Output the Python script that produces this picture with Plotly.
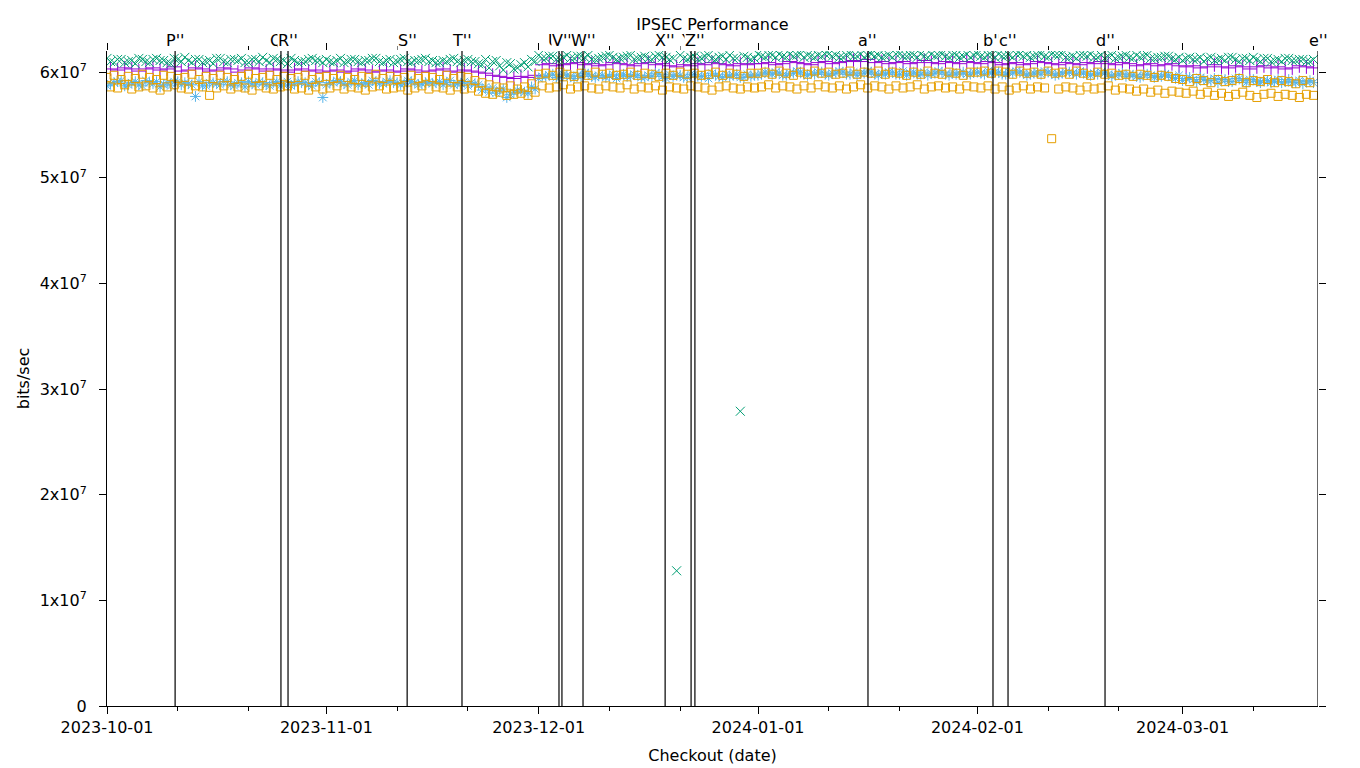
import pandas as pd
import plotly.graph_objects as go

# Throughput per checkout day, in Mbit/s (one value per day from 2023-10-01)
plus_purple = [
    60.3, 60.2, 60.4, 60.3, 60.1, 60.3, 60.4, 60.2, 60.3, 60.5, 60.1, 60.2, 60.4, 60.3, 60.1, 60.2, 60.4, 60.3, 60.0, 60.2, 60.4, 60.3, 60.1, 60.3, 60.2, 60.0, 60.2, 60.3, 60.1, 60.2, 60.0,
    60.1, 60.2, 60.0, 60.1, 60.3, 60.2, 60.0, 60.1, 60.2, 60.0, 60.1, 60.3, 60.2, 60.0, 60.1, 60.2, 60.3, 60.1, 60.0, 60.2, 60.1, 60.0, 59.9, 59.7, 59.6, 59.5, 59.4, 59.6, 59.5, 59.7,
    60.7, 60.8, 60.6, 60.7, 60.8, 60.9, 60.7, 60.8, 60.6, 60.7, 60.9, 60.8, 60.7, 60.6, 60.8, 60.9, 60.7, 60.8, 60.6, 60.5, 60.7, 60.6, 60.8, 60.7, 60.9, 60.8, 60.7, 60.6, 60.8, 60.7, 60.8,
    60.8, 60.9, 60.7, 60.8, 61.0, 60.9, 60.8, 60.7, 60.9, 61.0, 60.8, 60.9, 61.0, 61.1, 61.0, 61.2, 60.9, 61.0, 60.8, 60.9, 61.0, 60.8, 60.9, 61.1, 60.9, 60.8, 61.0, 60.9, 60.8, 61.0, 60.9,
    60.8, 61.0, 60.9, 60.7, 60.8, 60.9, 60.7, 60.8, 61.0, 60.9, 60.8, 60.7, 60.9, 60.8, 60.7, 60.9, 60.8, 61.0, 60.8, 60.7, 60.9, 60.8, 60.6, 60.7, 60.8, 60.6, 60.7, 60.8, 60.6,
    60.5, 60.6, 60.4, 60.5, 60.7, 60.5, 60.4, 60.6, 60.5, 60.3, 60.5, 60.6, 60.4, 60.5, 60.3, 60.4, 60.6, 60.5, 60.4,
]
x_green = [
    61.0, 61.2, 60.9, 61.1, 61.3, 61.0, 61.2, 61.1, 60.9, 61.3, 61.0, 61.1, 61.2, 60.9, 61.1, 61.3, 61.0, 61.2, 61.1, 60.9, 61.2, 61.0, 61.1, 61.3, 61.0, 60.8, 61.1, 61.0, 61.2, 61.1, 60.9,
    61.0, 61.1, 60.9, 61.2, 61.0, 61.1, 61.3, 61.0, 61.1, 60.9, 61.2, 61.0, 61.1, 61.2, 61.0, 60.9, 61.1, 61.2, 61.0, 61.1, 61.0, 60.8, 61.2, 61.0, 60.6, 60.9, 60.3, 60.7, 60.5, 61.0,
    61.3, 61.5, 61.2, 61.4, 61.3, 61.5, 61.4, 61.2, 61.3, 61.5, 61.4, 61.3, 61.5, 61.2, 61.4, 61.3, 61.5, 61.4, 61.2, 12.8, 61.3, 61.4, 61.2, 61.5, 61.3, 61.4, 61.2, 61.3, 27.9, 61.4, 61.3,
    61.5, 61.6, 61.4, 61.5, 61.7, 61.6, 61.4, 61.5, 61.6, 61.7, 61.5, 61.4, 61.6, 61.5, 61.7, 61.6, 61.5, 61.4, 61.6, 61.7, 61.5, 61.6, 61.4, 61.5, 61.7, 61.6, 61.5, 61.6, 61.4, 61.7, 61.6,
    61.5, 61.6, 61.4, 61.5, 61.6, 61.7, 61.5, 61.4, 61.6, 61.5, 61.7, 61.6, 61.4, 61.5, 61.6, 61.5, 61.4, 61.6, 61.5, 61.3, 61.5, 61.4, 61.6, 61.5, 61.3, 61.4, 61.5, 61.3, 61.4,
    61.3, 61.2, 61.4, 61.3, 61.1, 61.3, 61.4, 61.2, 61.3, 61.1, 61.2, 61.3, 61.0, 61.2, 61.3, 61.1, 61.2, 61.0, 61.2,
]
x_green_2 = [
    61.3, 60.9, 61.2, 61.0, 60.8, 61.2, 60.9, 61.3, 61.1, 60.8, 61.2, 61.4, 60.9, 61.2, 61.0, 60.8, 61.3, 60.9, 61.2, 61.3, 60.9, 61.2, 61.4, 60.9, 61.2, 61.1, 61.3, 60.9, 61.0, 61.3, 61.1,
    61.2, 60.9, 61.3, 61.0, 61.2, 60.9, 61.1, 61.3, 60.9, 61.2, 61.0, 61.3, 60.9, 61.1, 61.3, 61.1, 60.9, 61.0, 61.3, 60.9, 61.2, 61.0, 60.7, 60.4, 61.1, 60.2, 60.8, 60.4, 60.9, 61.2,
    61.6, 61.3, 61.5, 61.2, 61.6, 61.3, 61.5, 61.6, 61.2, 61.4, 61.6, 61.2, 61.4, 61.6, 61.3, 61.5, 61.2, 61.6, 61.4, 61.3, 61.6, 61.2, 61.5, 61.3, 61.6, 61.2, 61.5, 61.6, 61.3, 61.5, 61.2,
    61.7, 61.4, 61.6, 61.7, 61.4, 61.5, 61.7, 61.6, 61.4, 61.5, 61.7, 61.6, 61.4, 61.7, 61.5, 61.4, 61.7, 61.6, 61.5, 61.4, 61.7, 61.5, 61.6, 61.7, 61.4, 61.5, 61.7, 61.4, 61.6, 61.5, 61.4,
    61.7, 61.4, 61.6, 61.7, 61.5, 61.4, 61.7, 61.6, 61.5, 61.7, 61.4, 61.6, 61.7, 61.4, 61.3, 61.6, 61.7, 61.4, 61.3, 61.6, 61.4, 61.6, 61.3, 61.4, 61.6, 61.3, 61.4, 61.5, 61.2,
    61.1, 61.4, 61.2, 61.0, 61.4, 61.2, 61.1, 61.4, 61.0, 61.3, 61.4, 61.0, 61.3, 61.1, 61.0, 61.3, 61.1, 61.2, 61.0,
]
star_blue = [
    58.9, 59.1, 58.7, 59.0, 58.8, 59.2, 58.9, 58.6, 59.0, 59.1, 58.8, 58.9, 57.7, 58.7, 59.0, 58.9, 59.1, 58.8, 59.0, 58.6, 58.9, 59.1, 58.8, 59.0, 58.7, 59.1, 58.9, 59.0, 58.8, 59.1, 57.6,
    59.0, 59.2, 58.9, 59.1, 58.8, 59.0, 59.2, 58.9, 59.1, 59.0, 58.8, 59.2, 59.0, 58.9, 59.1, 59.0, 58.8, 59.2, 58.9, 59.1, 59.0, 58.8, 58.6, 58.5, 58.3, 57.6, 58.1, 58.2, 58.0, 58.4,
    59.6, 59.7, 59.5, 59.8, 59.6, 59.7, 59.9, 59.6, 59.7, 59.5, 59.8, 59.7, 59.6, 59.8, 59.5, 59.7, 59.9, 59.6, 59.8, 59.7, 59.5, 59.8, 59.6, 59.7, 59.9, 59.6, 59.8, 59.7, 59.5, 59.8, 59.7,
    59.8, 59.9, 60.0, 59.7, 59.9, 60.1, 59.8, 59.9, 60.0, 59.8, 59.9, 60.1, 59.8, 60.0, 59.9, 60.1, 59.8, 59.9, 60.0, 59.8, 60.1, 59.9, 59.8, 60.0, 59.9, 60.1, 59.8, 60.0, 59.9, 59.8, 60.0,
    59.9, 60.1, 60.0, 59.8, 60.0, 60.1, 59.9, 59.8, 60.0, 60.1, 59.9, 59.8, 60.0, 59.9, 60.1, 59.8, 59.9, 60.0, 59.8, 59.7, 59.9, 59.8, 59.6, 59.8, 59.7, 59.6, 59.8, 59.5, 59.7,
    59.4, 59.3, 59.5, 59.2, 59.4, 59.3, 59.1, 59.4, 59.2, 59.3, 59.1, 59.2, 59.0, 59.3, 59.1, 59.0, 59.2, 59.1, 59.0,
]
star_blue_2 = [
    58.7, 59.0, 59.2, 58.8, 59.1, 58.7, 59.0, 59.1, 58.8, 58.7, 59.1, 59.0, 58.8, 59.1, 58.7, 59.0, 58.8, 59.1, 58.7, 59.0, 59.1, 58.8, 59.0, 58.7, 59.1, 58.8, 58.7, 59.1, 59.0, 58.7, 59.0,
    58.8, 59.0, 59.1, 58.8, 59.2, 58.9, 58.8, 59.1, 58.9, 59.2, 59.0, 58.9, 59.1, 58.8, 59.0, 58.9, 59.1, 59.0, 58.8, 58.9, 58.7, 58.9, 58.3, 58.1, 58.0, 58.4, 57.9, 58.3, 58.1, 58.6,
    59.4, 59.6, 59.8, 59.5, 59.7, 59.4, 59.6, 59.8, 59.5, 59.7, 59.6, 59.4, 59.8, 59.6, 59.7, 59.5, 59.6, 59.8, 59.4, 59.6, 59.7, 59.5, 59.8, 59.6, 59.4, 59.7, 59.5, 59.6, 59.8, 59.5, 59.6,
    59.7, 60.0, 59.8, 59.9, 59.7, 59.9, 60.0, 59.7, 59.8, 60.0, 59.7, 59.9, 60.0, 59.8, 59.7, 59.9, 60.0, 59.7, 59.8, 60.0, 59.8, 59.7, 60.0, 59.8, 59.7, 59.9, 60.0, 59.7, 59.8, 60.0, 59.8,
    60.0, 59.8, 59.9, 60.0, 59.8, 59.9, 60.0, 59.7, 59.9, 59.8, 60.0, 59.7, 59.9, 60.0, 59.8, 59.9, 59.7, 59.8, 59.9, 59.6, 59.8, 59.6, 59.7, 59.5, 59.8, 59.5, 59.6, 59.7, 59.4,
    59.2, 59.5, 59.1, 59.3, 59.2, 59.0, 59.3, 59.1, 59.4, 59.0, 59.3, 59.0, 59.2, 59.1, 59.0, 59.3, 59.0, 58.9, 59.2,
]
square_orange_hi = [
    59.5, 59.7, 59.3, 59.6, 59.4, 59.8, 59.5, 59.3, 59.7, 59.6, 59.4, 59.5, 59.8, 59.3, 59.6, 59.4, 59.7, 59.5, 59.3, 59.6, 59.8, 59.4, 59.5, 59.7, 59.3, 59.6, 59.4, 59.5, 59.7, 59.3, 59.5,
    59.6, 59.4, 59.7, 59.5, 59.3, 59.6, 59.5, 59.8, 59.4, 59.6, 59.3, 59.5, 59.7, 59.4, 59.6, 59.5, 59.3, 59.7, 59.4, 59.6, 59.5, 59.2, 59.0, 58.8, 58.6, 58.5, 58.7, 58.4, 58.6, 58.9,
    59.8, 59.9, 59.7, 60.0, 59.8, 59.6, 59.9, 59.7, 60.0, 59.8, 59.9, 59.7, 59.8, 60.0, 59.7, 59.9, 59.8, 59.6, 59.9, 59.7, 60.0, 59.8, 59.9, 59.7, 59.8, 60.0, 59.7, 59.9, 59.8, 59.6, 59.9,
    59.9, 60.0, 59.8, 60.1, 59.9, 59.7, 60.0, 59.8, 60.1, 59.9, 60.0, 59.8, 59.9, 60.1, 59.8, 60.0, 59.9, 60.1, 59.8, 60.0, 59.9, 59.7, 60.0, 59.8, 60.1, 59.9, 59.8, 60.0, 59.9, 59.7, 60.0,
    60.0, 60.1, 59.9, 60.1, 60.0, 59.8, 60.1, 59.9, 60.0, 59.8, 60.1, 59.9, 60.0, 59.8, 60.1, 59.9, 59.7, 60.0, 59.8, 59.9, 59.7, 59.8, 59.6, 59.8, 59.7, 59.5, 59.7, 59.6, 59.4,
    59.3, 59.1, 59.4, 59.2, 59.0, 59.3, 59.1, 59.2, 59.4, 59.0, 59.2, 59.1, 59.3, 59.0, 59.2, 59.1, 58.9, 59.2, 59.0,
]
square_orange_lo = [
    58.6, 58.5, 58.8, 58.4, 58.6, 58.7, 58.5, 58.3, 58.6, 58.8, 58.5, 58.4, 58.7, 58.6, 57.8, 58.5, 58.7, 58.4, 58.6, 58.5, 58.3, 58.7, 58.5, 58.4, 58.6, 58.7, 58.4, 58.5, 58.3, 58.6, 58.4,
    58.5, 58.7, 58.4, 58.6, 58.5, 58.3, 58.6, 58.7, 58.4, 58.5, 58.6, 58.3, 58.5, 58.7, 58.4, 58.6, 58.5, 58.3, 58.6, 58.4, 58.5, 58.2, 58.0, 57.9, 58.1, 57.8, 57.9, 58.0, 57.8, 58.1,
    58.7, 58.5, 58.6, 58.8, 58.4, 58.6, 58.7, 58.5, 58.4, 58.7, 58.6, 58.5, 58.8, 58.4, 58.6, 58.5, 58.7, 58.3, 58.6, 58.5, 58.4, 58.7, 58.6, 58.5, 58.3, 58.6, 58.7, 58.5, 58.4, 58.6, 58.5,
    58.6, 58.8, 58.5, 58.7, 58.6, 58.4, 58.7, 58.5, 58.8, 58.6, 58.5, 58.7, 58.4, 58.6, 58.8, 58.5, 58.7, 58.6, 58.4, 58.7, 58.5, 58.6, 58.8, 58.4, 58.6, 58.7, 58.5, 58.6, 58.4, 58.7, 58.6,
    58.5, 58.7, 58.4, 58.6, 58.3, 58.5, 58.7, 58.4, 58.6, 58.5, 53.7, 58.4, 58.6, 58.5, 58.3, 58.6, 58.4, 58.5, 58.7, 58.3, 58.5, 58.4, 58.2, 58.4, 58.1, 58.3, 58.0, 58.2, 58.1,
    58.0, 58.2, 57.9, 58.1, 57.8, 58.0, 57.7, 57.9, 58.1, 57.8, 57.6, 57.9, 58.0, 57.7, 57.9, 57.8, 57.6, 57.9, 57.8,
]

# Release markers
release_names = ["P''", "Q''", "R''", "S''", "T''", "U''", "V''", "W''", "X''", "Y''", "Z''",
                 "a''", "b''", "c''", "d''", "e''"]
release_dates = ['2023-10-10 15:00', '2023-10-25 14:00', '2023-10-26 14:00', '2023-11-12 10:00',
                 '2023-11-20 04:00', '2023-12-03 21:00', '2023-12-04 07:00', '2023-12-07 06:30',
                 '2023-12-18 21:00', '2023-12-22 13:00', '2023-12-23 02:00', '2024-01-16 13:00',
                 '2024-02-03 05:00', '2024-02-05 08:00', '2024-02-19 01:00', '2024-03-20 03:20']

major_ticks = ['2023-10-01', '2023-11-01', '2023-12-01', '2024-01-01', '2024-02-01', '2024-03-01']
minor_ticks = ['2023-10-11', '2023-10-21', '2023-11-11', '2023-11-21', '2023-12-11', '2023-12-21',
               '2024-01-11', '2024-01-21', '2024-02-11', '2024-02-21', '2024-03-11']
y_ticks = [0, 1e7, 2e7, 3e7, 4e7, 5e7, 6e7]
y_ticktext = ['0'] + ['%dx10<sup>7</sup>' % i for i in range(1, 7)]

x_range = ['2023-10-01 00:00', '2024-03-20 03:20']
y_range = [0, 6.2e7]

# (values, first sample time, symbol, colour, size) in gnuplot plotting order
series = [
    (plus_purple, '2023-10-01 12:00', 'cross-thin-open', '#9400d3', 10),
    (x_green, '2023-10-01 12:00', 'x-thin-open', '#009e73', 9),
    (x_green_2, '2023-10-01 00:00', 'x-thin-open', '#009e73', 9),
    (star_blue, '2023-10-01 12:00', 'asterisk-open', '#56b4e9', 9),
    (star_blue_2, '2023-10-01 00:00', 'asterisk-open', '#56b4e9', 9),
    (square_orange_hi, '2023-10-01 00:00', 'square-open', '#e69f00', 8),
    (square_orange_lo, '2023-10-01 12:00', 'square-open', '#e69f00', 8),
]

fig = go.Figure()

for vals, start, symbol, color, size in series:
    dates = pd.date_range(start, periods=len(vals), freq='D')
    fig.add_trace(go.Scatter(
        x=dates,
        y=[v * 1e6 for v in vals],
        mode='markers',
        marker=dict(symbol=symbol, size=size, color=color, line=dict(color=color, width=1)),
        hoverinfo='skip'
    ))

# empty trace so mirrored axes are drawn
fig.add_trace(go.Scatter(x=[], y=[], xaxis='x2', yaxis='y2', showlegend=False))

for name, d in zip(release_names, release_dates):
    fig.add_shape(type='line', x0=d, x1=d, y0=0, y1=1, xref='x', yref='paper',
                  line=dict(color='black', width=1.2))
    fig.add_annotation(x=d, y=1, xref='x', yref='paper', text=name, showarrow=False,
                       xanchor='center', yanchor='bottom', yshift=0, bgcolor='white',
                       borderpad=0, font=dict(size=16))

axis_font = dict(family='DejaVu Sans', size=16, color='black')

# the page adds an 8px body margin, so the figure is a little smaller than the window
fig.update_layout(
    width=1352,
    height=760,
    margin=dict(l=99, r=42, t=43, b=62, autoexpand=False),
    plot_bgcolor='white',
    paper_bgcolor='white',
    showlegend=False,
    font=axis_font,
    title=dict(text='IPSEC Performance', x=0.5, xref='paper', xanchor='center',
               y=1 - 16 / 760, yref='container', yanchor='middle', font=dict(size=16)),
    xaxis=dict(
        type='date', range=x_range, tickvals=major_ticks, tickformat='%Y-%m-%d',
        ticks='outside', ticklen=7, tickcolor='black', showline=True, linecolor='black',
        linewidth=1, showgrid=False, zeroline=False, automargin=False,
        minor=dict(tickvals=minor_ticks, ticks='outside', ticklen=4, tickcolor='black', showgrid=False),
        title=dict(text='Checkout (date)', standoff=13, font=dict(size=16))
    ),
    xaxis2=dict(
        type='date', range=x_range, overlaying='x', side='top', tickvals=major_ticks,
        ticks='outside', ticklen=7, tickcolor='black', showticklabels=False,
        showline=False, showgrid=False, zeroline=False, automargin=False,
        minor=dict(tickvals=minor_ticks, ticks='outside', ticklen=4, tickcolor='black', showgrid=False)
    ),
    yaxis=dict(
        range=y_range, tickvals=y_ticks, ticktext=y_ticktext, ticks='outside', ticklen=7,
        tickcolor='black', showline=True, linecolor='black', linewidth=1, automargin=False,
        ticklabelstandoff=9, showgrid=False, zeroline=False,
        title=dict(text='bits/sec', standoff=6, font=dict(size=16))
    ),
    yaxis2=dict(
        range=y_range, overlaying='y', side='right', tickvals=y_ticks, ticks='outside',
        ticklen=7, tickcolor='black', showticklabels=False, showline=False,
        showgrid=False, zeroline=False, automargin=False
    ),
)

fig.write_html("out.html")
